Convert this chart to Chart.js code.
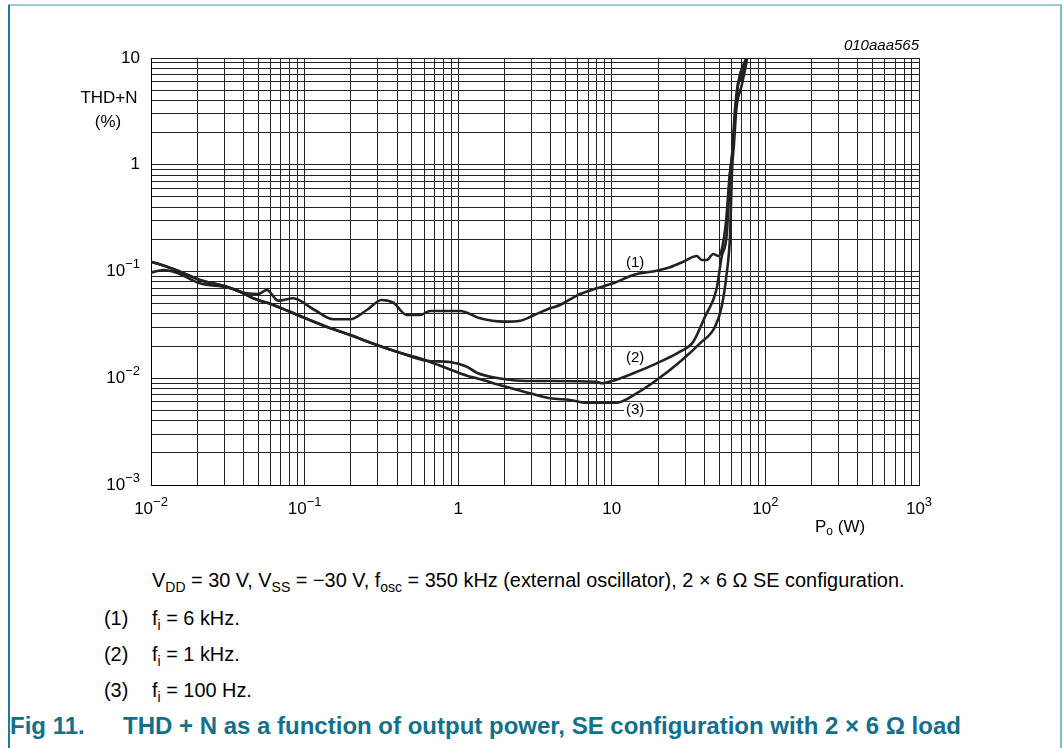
<!DOCTYPE html>
<html>
<head>
<meta charset="utf-8">
<script src="https://cdn.jsdelivr.net/npm/chart.js@4.4.1/dist/chart.umd.min.js"></script>
<style>
  html, body { margin: 0; padding: 0; background: #fff; }
  body { width: 1063px; height: 748px; position: relative; overflow: hidden; font-family: "Liberation Sans", Arial, sans-serif; color: #000; }
  #wrap { position: absolute; left: 0; top: 0; width: 1063px; height: 560px; }
  .frame { position: absolute; }
  .note { position: absolute; font-size: 19.9px; line-height: 22px; white-space: nowrap; }
  .note .sb { font-size: 14px; position: relative; top: 5px; }
  .note .num { display: inline-block; width: 48px; }
  .caption { position: absolute; left: 10px; top: 712px; font-size: 24px; line-height: 28px; font-weight: bold; color: #12708c; white-space: nowrap; }
  .caption .num { display: inline-block; width: 113px; }
</style>
</head>
<body>
<div class="frame" style="left:8px;top:4px;width:1054px;height:2px;background:#9fc9d4;"></div>
<div class="frame" style="left:8px;top:5px;width:2px;height:743px;background:#1f7c92;"></div>
<div class="frame" style="left:1060px;top:5px;width:2px;height:743px;background:#7fbac9;"></div>

<div id="wrap"><canvas id="thdChart" width="1063" height="560"></canvas></div>

<div class="note" style="left:152px;top:569px;">V<span class="sb">DD</span> = 30 V, V<span class="sb">SS</span> = &minus;30 V, f<span class="sb">osc</span> = 350 kHz (external oscillator), 2 &times; 6 &Omega; SE configuration.</div>
<div class="note" style="left:104px;top:607px;"><span class="num">(1)</span>f<span class="sb">i</span> = 6 kHz.</div>
<div class="note" style="left:104px;top:643px;"><span class="num">(2)</span>f<span class="sb">i</span> = 1 kHz.</div>
<div class="note" style="left:104px;top:679px;"><span class="num">(3)</span>f<span class="sb">i</span> = 100 Hz.</div>
<div class="caption"><span class="num">Fig 11.</span>THD + N as a function of output power, SE configuration with 2 &times; 6 &Omega; load</div>

<script>
// axis ranges and tick labels
const xDecades = [0.01, 0.1, 1, 10, 100, 1000];
const xLabelBase = ['10', '10', '1', '10', '10', '10'];
const xLabelExp = ['\u22122', '\u22121', '', '', '2', '3'];
const yDecades = [0.001, 0.01, 0.1, 1, 10];
const yLabelBase = ['10', '10', '10', '1', '10'];
const yLabelExp = ['\u22123', '\u22122', '\u22121', '', ''];
const minorSteps = [1, 2, 3, 4, 5, 6, 7, 8, 9];

// (1) fi = 6 kHz
const c1Power = [0.01, 0.012, 0.0147, 0.0208, 0.0311, 0.042, 0.05, 0.0567, 0.0674, 0.0844, 0.114, 0.154, 0.198, 0.254, 0.318, 0.378, 0.462, 0.564, 0.655, 1.03, 1.39, 1.97, 2.53, 3.08, 3.96, 4.6, 6.21, 7.98, 10.2, 13.8, 19.6, 23.9, 29.2, 35.7, 38.5, 41.5, 45.8, 49.4, 51.9, 55.5, 58.5, 60.3, 63.4, 66, 70, 75.5];
const c1Thd = [0.0974, 0.1033, 0.0974, 0.0775, 0.0711, 0.0625, 0.0615, 0.0671, 0.0533, 0.0561, 0.0443, 0.0357, 0.0357, 0.0436, 0.0541, 0.051, 0.0391, 0.0391, 0.0427, 0.0427, 0.0364, 0.0339, 0.0346, 0.0387, 0.0452, 0.0486, 0.0615, 0.0696, 0.0775, 0.0927, 0.1018, 0.1095, 0.1235, 0.1397, 0.1281, 0.1281, 0.1459, 0.1397, 0.159, 0.3, 0.8, 1.1, 3.3, 5.5, 6.6, 10];

// (2) fi = 1 kHz
const c2Power = [0.01, 0.0127, 0.0155, 0.0208, 0.0311, 0.038, 0.0463, 0.0626, 0.0933, 0.139, 0.198, 0.295, 0.418, 0.624, 0.884, 1.14, 1.32, 1.97, 2.79, 3.96, 7.98, 8.6, 10.2, 13.8, 19.6, 27.8, 33.9, 40.4, 48.2, 51.9, 56, 59.2, 61, 64, 66.5, 75];
const c2Thd = [0.1235, 0.1109, 0.0996, 0.0833, 0.0721, 0.0647, 0.0561, 0.0486, 0.0383, 0.0304, 0.0254, 0.0205, 0.01735, 0.0146, 0.0142, 0.01283, 0.01127, 0.00984, 0.00942, 0.00942, 0.00928, 0.00897, 0.00948, 0.01113, 0.0138, 0.01773, 0.022, 0.0377, 0.0696, 0.1376, 0.22, 0.9, 1.3, 3.4, 5.8, 10];

// (3) fi = 100 Hz
const c3Power = [0.01, 0.0127, 0.0155, 0.0208, 0.0311, 0.038, 0.0463, 0.0626, 0.0933, 0.139, 0.198, 0.295, 0.418, 0.624, 0.884, 1.14, 1.32, 1.97, 2.93, 3.96, 5.35, 6.86, 10.8, 14.5, 19.6, 27.8, 37.5, 47, 51.9, 56, 58.8, 60.8, 62.3, 64.8, 70, 74, 76];
const c3Thd = [0.1235, 0.1109, 0.0996, 0.0833, 0.0721, 0.0647, 0.0561, 0.0486, 0.0383, 0.0304, 0.0254, 0.0205, 0.01735, 0.0146, 0.01208, 0.01057, 0.00999, 0.00846, 0.00723, 0.00649, 0.00626, 0.0059, 0.0059, 0.00723, 0.00963, 0.0143, 0.02125, 0.0304, 0.0468, 0.0962, 0.212, 0.95, 1.5, 3.4, 5.5, 8, 10];

// curve tags placed in data space
const tagText = ['(1)', '(2)', '(3)'];
const tagPower = [14.2, 14.2, 14.2];
const tagThd = [0.1215, 0.0155, 0.00505];

const toPoints = (xs, ys) => xs.map((x, i) => ({ x: x, y: ys[i] }));
const allTicks = (decades) => {
    const out = [];
    decades.forEach((d, i) => {
        if (i === decades.length - 1) { out.push(d); return; }
        minorSteps.forEach(m => out.push(+(d * m).toPrecision(3)));
    });
    return out.map(v => ({ value: v }));
};

const FONT = '"Liberation Sans", Arial, sans-serif';

function drawPow(ctx, base, exp, x, y, align) {
    ctx.font = '17px ' + FONT;
    const wb = ctx.measureText(base).width;
    ctx.font = '13px ' + FONT;
    const we = exp ? ctx.measureText(exp).width : 0;
    const total = wb + we;
    let x0 = x;
    if (align === 'center') x0 = x - total / 2;
    if (align === 'right') x0 = x - total;
    ctx.textAlign = 'left';
    ctx.textBaseline = 'middle';
    ctx.font = '17px ' + FONT;
    ctx.fillText(base, x0, y);
    if (exp) {
        ctx.font = '13px ' + FONT;
        ctx.fillText(exp, x0 + wb, y - 7);
    }
}

const labelPlugin = {
    id: 'labelPlugin',
    afterDraw(chart) {
        const ctx = chart.ctx;
        const xs = chart.scales.x;
        const ys = chart.scales.y;
        ctx.save();
        ctx.fillStyle = '#000';

        yDecades.forEach((v, i) => {
            drawPow(ctx, yLabelBase[i], yLabelExp[i], 140, ys.getPixelForValue(v), 'right');
        });
        xDecades.forEach((v, i) => {
            drawPow(ctx, xLabelBase[i], xLabelExp[i], xs.getPixelForValue(v), 509, 'center');
        });

        ctx.font = '17px ' + FONT;
        ctx.textAlign = 'center';
        ctx.textBaseline = 'middle';
        ctx.fillText('THD+N', 109, 98);
        ctx.fillText('(%)', 108, 122);

        ctx.textAlign = 'right';
        ctx.font = 'italic 15px ' + FONT;
        ctx.fillText('010aaa565', 919, 46);

        // P_o (W)
        ctx.textAlign = 'left';
        ctx.font = '17px ' + FONT;
        ctx.fillText('P', 815, 527);
        const wp = ctx.measureText('P').width;
        ctx.font = '12px ' + FONT;
        ctx.fillText('o', 815 + wp, 532);
        const wo = ctx.measureText('o').width;
        ctx.font = '17px ' + FONT;
        ctx.fillText(' (W)', 815 + wp + wo, 527);

        ctx.font = '15px ' + FONT;
        ctx.textAlign = 'center';
        tagText.forEach((t, i) => {
            const px = xs.getPixelForValue(tagPower[i]);
            const py = ys.getPixelForValue(tagThd[i]);
            const w = ctx.measureText(t).width;
            ctx.fillStyle = '#fff';
            ctx.fillRect(px - w / 2 - 2, py - 8, w + 4, 16);
            ctx.fillStyle = '#000';
            ctx.fillText(t, px, py);
        });
        ctx.restore();
    }
};

const gridColor = '#222';
const curveColor = '#222';

function axis(min, max, decades, horizontal) {
    return {
        type: 'logarithmic',
        min: min,
        max: max,
        afterBuildTicks: (scale) => { scale.ticks = allTicks(decades); },
        afterFit: (scale) => {
            if (horizontal) scale.height = 0; else scale.width = 0;
        },
        ticks: { display: false },
        grid: { color: gridColor, lineWidth: 1, drawTicks: false },
        border: { display: true, color: '#000', width: 1 }
    };
}

new Chart(document.getElementById('thdChart').getContext('2d'), {
    type: 'line',
    data: {
        datasets: [
            { label: '(1) fi = 6 kHz', data: toPoints(c1Power, c1Thd) },
            { label: '(2) fi = 1 kHz', data: toPoints(c2Power, c2Thd) },
            { label: '(3) fi = 100 Hz', data: toPoints(c3Power, c3Thd) }
        ].map(d => Object.assign(d, {
            borderColor: curveColor,
            borderWidth: 2.6,
            pointRadius: 0,
            fill: false,
            tension: 0.25,
            cubicInterpolationMode: 'monotone'
        }))
    },
    options: {
        responsive: false,
        devicePixelRatio: 1,
        animation: false,
        layout: { padding: { left: 151, top: 58, right: 144, bottom: 75 } },
        plugins: { legend: { display: false }, tooltip: { enabled: false } },
        scales: {
            x: axis(0.01, 1000, xDecades, true),
            y: axis(0.001, 10, yDecades, false)
        }
    },
    plugins: [labelPlugin]
});
</script>
</body>
</html>
